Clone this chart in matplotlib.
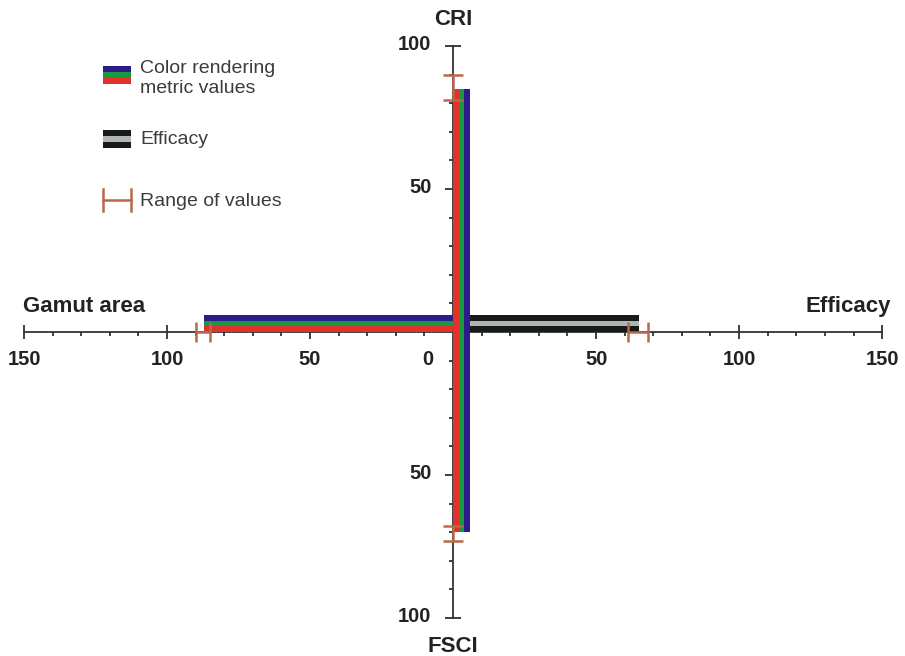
import matplotlib.pyplot as plt
from matplotlib.patches import Rectangle

plt.rcParams['font.family'] = ['Liberation Sans', 'DejaVu Sans']

# stripes, from the axis outwards
metric_colors = ['#e2302a', '#17993f', '#2d1b8a']   # red, green, blue
efficacy_colors = ['#161a19', '#b3b3b3', '#161a19']

# values of the three colour rendering metrics on each arm
cri = [85, 85, 85]
fsci = [70, 70, 70]
gamut = [87, 87, 87]
efficacy = [65, 65, 65]

# range of values (min, max)
cri_range = (81, 90)
fsci_range = (68, 73)
gamut_range = (85, 90)
efficacy_range = (61, 68)

h_ticks = [-150, -100, -50, 50, 100, 150]
v_ticks = [-100, -50, 50, 100]
h_minor = [v for v in range(-150, 151, 10) if v % 50]
v_minor = [v for v in range(-100, 101, 10) if v % 50]

axis_color = '#333333'
range_color = '#b9684a'
text_color = '#222222'

W, H = 905, 656
fig = plt.figure(figsize=(W / 100, H / 100), dpi=100)
ax = fig.add_axes([0, 0, 1, 1])
ax.set_xlim(-158.4, 158.0)
ax.set_ylim(-113.3, 116.1)
ax.axis('off')

# axes lines and ticks
ax.plot([-150, 150], [0, 0], color=axis_color, lw=1.3, zorder=1)
ax.plot([0, 0], [-100, 100], color=axis_color, lw=1.3, zorder=1)
ax.vlines(h_ticks, -2.5, 2.5, color=axis_color, lw=1.3, zorder=1)
ax.hlines(v_ticks, -2.7, 2.7, color=axis_color, lw=1.3, zorder=1)
ax.vlines(h_minor, -1.3, 0, color=axis_color, lw=1.3, zorder=1)
ax.hlines(v_minor, -1.3, 0, color=axis_color, lw=1.3, zorder=1)

# tick labels
for t in h_ticks:
    ax.text(t, -11.5, str(abs(t)), ha='center', va='baseline',
            fontsize=14.5, fontweight='bold', color=text_color)
for t in v_ticks:
    ax.text(-7.5, t - 1.3, str(abs(t)), ha='right', va='baseline',
            fontsize=14.5, fontweight='bold', color=text_color)
ax.text(-7.0, -11.5, '0', ha='right', va='baseline',
        fontsize=14.5, fontweight='bold', color=text_color)

# arm titles
ax.text(0, 107.3, 'CRI', ha='center', va='baseline', fontsize=16,
        fontweight='bold', color=text_color)
ax.text(0, -111.9, 'FSCI', ha='center', va='baseline', fontsize=16,
        fontweight='bold', color=text_color)
ax.text(-129, 7.0, 'Gamut area', ha='center', va='baseline', fontsize=16,
        fontweight='bold', color=text_color)
ax.text(138, 7.0, 'Efficacy', ha='center', va='baseline', fontsize=16,
        fontweight='bold', color=text_color)

# bars
pos = [1, 3, 5]
ax.barh(pos, [-v for v in gamut], height=2, color=metric_colors, zorder=2)
ax.barh(pos, efficacy, height=2, color=efficacy_colors, zorder=2)
ax.bar(pos, cri, width=2.1, color=metric_colors, zorder=3)
ax.bar(pos, [-v for v in fsci], width=2.1, color=metric_colors, zorder=3)

# range of values
eb = dict(fmt='none', ecolor=range_color, elinewidth=1.8, capsize=7.5,
          capthick=1.8, zorder=4)
ax.errorbar(0, sum(cri_range) / 2, yerr=(cri_range[1] - cri_range[0]) / 2, **eb)
ax.errorbar(0, -sum(fsci_range) / 2, yerr=(fsci_range[1] - fsci_range[0]) / 2, **eb)
ax.errorbar(-sum(gamut_range) / 2, 0, xerr=(gamut_range[1] - gamut_range[0]) / 2, **eb)
ax.errorbar(sum(efficacy_range) / 2, 0,
            xerr=(efficacy_range[1] - efficacy_range[0]) / 2, **eb)


# legend, placed in pixel coordinates
def fx(px):
    return px / W


def fy(py):
    return 1 - py / H


def stripes(top, colors, x0=103, x1=131, h=6):
    for i, c in enumerate(colors):
        y = top + i * h
        fig.patches.append(Rectangle((fx(x0), fy(y + h)), fx(x1) - fx(x0),
                                     h / H, transform=fig.transFigure,
                                     color=c, lw=0))


stripes(66, metric_colors[::-1])
stripes(130, efficacy_colors)
fig.add_artist(plt.Line2D([fx(103), fx(131)], [fy(200), fy(200)],
                          color=range_color, lw=1.8))
for px in (103, 131):
    fig.add_artist(plt.Line2D([fx(px), fx(px)], [fy(189), fy(211)],
                              color=range_color, lw=1.8))

leg_kw = dict(fontsize=14, color='#3c3c3c', va='baseline', ha='left')
fig.text(fx(140), fy(73), 'Color rendering', **leg_kw)
fig.text(fx(140), fy(93), 'metric values', **leg_kw)
fig.text(fx(140), fy(144), 'Efficacy', **leg_kw)
fig.text(fx(140), fy(206), 'Range of values', **leg_kw)

fig.savefig('out.png', dpi=100, facecolor='white')
